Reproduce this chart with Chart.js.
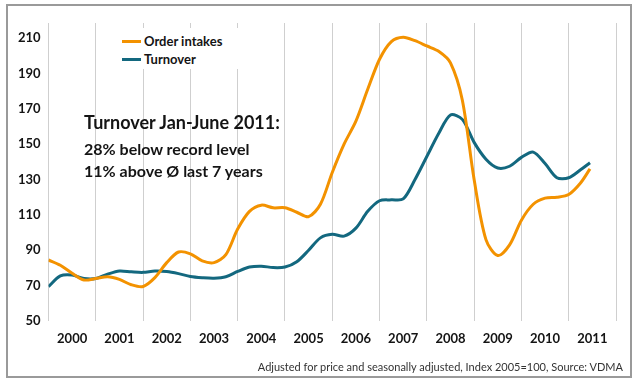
<!DOCTYPE html>
<html>
<head>
<meta charset="utf-8">
<script src="https://cdn.jsdelivr.net/npm/chart.js@4"></script>
<style>
  body { margin: 0; background: #fff; }
  #wrap { position: relative; width: 640px; height: 384px; font-family: Lato, "DejaVu Sans", sans-serif; color: #141414; }
  #chart { position: absolute; left: 0; top: 0; }
  #frame { position: absolute; left: 6px; top: 4px; width: 622px; height: 370px; border: 2px solid #9a9a9a; pointer-events: none; }
  .legend-box { position: absolute; left: 115px; top: 28px; width: 125px; height: 41px; background: #fff; }
  .legend-line { position: absolute; left: 122px; width: 19px; height: 3px; }
  .legend-text { position: absolute; left: 144px; font-size: 13px; line-height: 16px; font-weight: bold; }
  .note { position: absolute; left: 84px; font-weight: bold; white-space: nowrap; }
  #footer { position: absolute; right: 17px; top: 360px; font-size: 11px; line-height: 13px; color: #333; white-space: nowrap; }
</style>
</head>
<body>
<div id="wrap">
  <canvas id="chart" width="640" height="384"></canvas>
  <div class="legend-box"></div>
  <div class="legend-line" style="top:40px;background:#f39200"></div>
  <div class="legend-text" style="top:33px">Order intakes</div>
  <div class="legend-line" style="top:58px;background:#13687f"></div>
  <div class="legend-text" style="top:51px">Turnover</div>
  <div class="note" style="top:113px;font-size:18px;line-height:18px">Turnover Jan-June 2011:</div>
  <div class="note" style="top:141px;font-size:16px;line-height:16px">28% below record level</div>
  <div class="note" style="top:163px;font-size:16px;line-height:16px">11% above Ø last 7 years</div>
  <div id="footer">Adjusted for price and seasonally adjusted, Index 2005=100, Source: VDMA</div>
  <div id="frame"></div>
</div>
<script>
const period = [
  2000.0, 2000.25, 2000.5, 2000.75, 2001.0, 2001.25, 2001.5, 2001.75,
  2002.0, 2002.25, 2002.5, 2002.75, 2003.0, 2003.25, 2003.5, 2003.75,
  2004.0, 2004.25, 2004.5, 2004.75, 2005.0, 2005.25, 2005.5, 2005.75,
  2006.0, 2006.25, 2006.5, 2006.75, 2007.0, 2007.25, 2007.5, 2007.75,
  2008.0, 2008.25, 2008.5, 2008.75, 2009.0, 2009.25, 2009.5, 2009.75,
  2010.0, 2010.25, 2010.5, 2010.75, 2011.0, 2011.25, 2011.45
];

const orderIntakes = [
  84.5, 81.5, 77, 73.2, 74, 75, 73.5, 70.5,
  69.5, 74.5, 83, 89, 88, 84, 83, 87.5,
  102, 112, 115.5, 114, 114, 111.5, 109, 116,
  134, 150, 163, 181, 198, 208, 210.5, 208.5,
  205.5, 202.5, 196, 175, 130, 96, 87, 93,
  107, 116, 119.5, 120, 121.5, 128, 136
];

const turnover = [
  69.5, 75.5, 76, 74, 74, 76.5, 78.3, 77.8,
  77.5, 78.3, 78, 76.8, 75.2, 74.5, 74.2, 75,
  78, 80.5, 81, 80.2, 80.5, 83.5, 90, 97,
  99, 98, 102.5, 112, 118, 118.5, 119, 130,
  143, 156, 166.5, 164, 151, 141.5, 136.5, 137.5,
  142.5, 145.5, 139, 131, 131, 135.5, 139.5
];

const yearLabels = ["2000", "2001", "2002", "2003", "2004", "2005", "2006", "2007", "2008", "2009", "2010", "2011"];
const gridYears = [2000, 2001, 2002, 2003, 2004, 2005, 2006, 2007, 2008, 2009, 2010, 2011, 2012];
const yTicks = [50, 70, 90, 110, 130, 150, 170, 190, 210];

const tickFont = { family: "Lato", size: 13, weight: "bold" };

function toPoints(values) {
  return period.map((p, i) => ({ x: p, y: values[i] }));
}

new Chart(document.getElementById("chart"), {
  type: "line",
  data: {
    datasets: [
      { label: "Order intakes", data: toPoints(orderIntakes), borderColor: "#f39200", borderWidth: 3,
        pointRadius: 0, tension: 0.3 },
      { label: "Turnover", data: toPoints(turnover), borderColor: "#13687f", borderWidth: 3,
        pointRadius: 0, tension: 0.3 }
    ]
  },
  options: {
    responsive: false,
    animation: false,
    layout: { padding: { top: 23, right: 24, left: 0, bottom: 23 } },
    plugins: { legend: { display: false }, tooltip: { enabled: false } },
    scales: {
      x: {
        type: "linear", min: 2000, max: 2012,
        afterBuildTicks: (s) => { s.ticks = gridYears.map((v) => ({ value: v })); },
        afterFit: (s) => { s.height = 0; },
        ticks: { display: false },
        grid: { color: "#cfcfcf", lineWidth: 1, drawTicks: false },
        border: { display: false }
      },
      xLabels: {
        type: "linear", position: "bottom", min: 2000, max: 2012,
        afterBuildTicks: (s) => { s.ticks = yearLabels.map((_, i) => ({ value: 2000.5 + i })); },
        afterFit: (s) => { s.height = 40; },
        ticks: {
          callback: (v) => yearLabels[Math.floor(v - 2000)],
          font: tickFont, color: "#141414", padding: 10, maxRotation: 0, autoSkip: false
        },
        grid: { display: false, drawTicks: false },
        border: { display: false }
      },
      y: {
        min: 50, max: 218.5,
        afterBuildTicks: (s) => { s.ticks = yTicks.map((v) => ({ value: v })); },
        afterFit: (s) => { s.width = 48.5; },
        ticks: { font: tickFont, color: "#141414", padding: 8 },
        grid: { display: false, drawTicks: false },
        border: { display: false }
      }
    }
  }
});
</script>
</body>
</html>
